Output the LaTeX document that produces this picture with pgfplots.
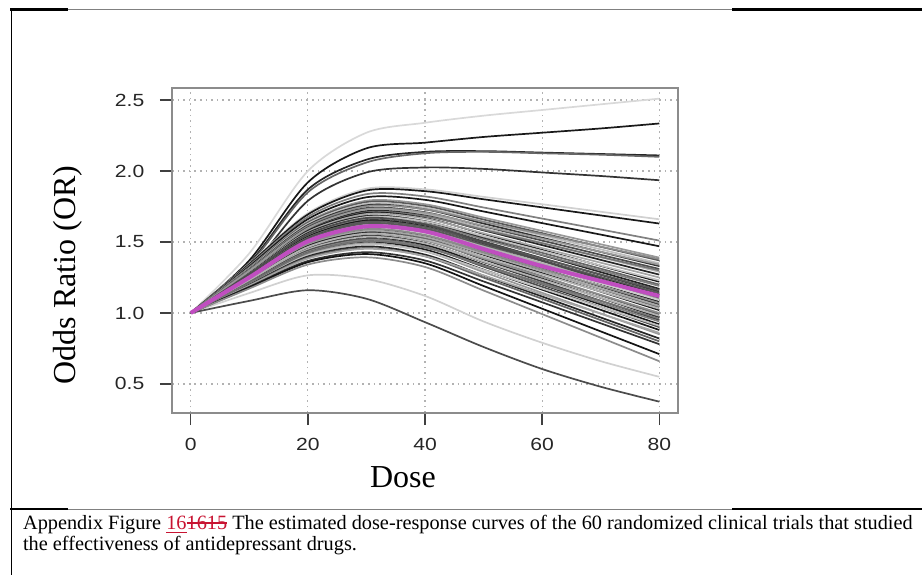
\documentclass[border=0pt]{standalone}
\usepackage{pgfplots}
\pgfplotsset{compat=1.18}
\usepackage{fontspec}
\setmainfont{Liberation Serif}
\setsansfont{Liberation Sans}
\definecolor{mag}{RGB}{192,78,192}
\definecolor{trackred}{RGB}{200,20,50}
\newcommand{\strike}[1]{\setbox0\hbox{#1}\rlap{\rule[0.27em]{\wd0}{0.06em}}\box0}
\begin{document}
\begin{tikzpicture}
\useasboundingbox (0pt,0pt) rectangle (461pt,287.5pt);
% frame lines
\begin{scope}[x=0.5pt,y=0.5pt]
\draw[black!50, line width=0.5pt] (68,565.5) -- (732,565.5);
\draw[black, line width=1.1pt] (10,565.5) -- (68,565.5);
\draw[black, line width=1.1pt] (732,565.5) -- (922,565.5);
\draw[black!50, line width=0.5pt] (68,66) -- (732,66);
\draw[black, line width=1.1pt] (10,66) -- (68,66);
\draw[black, line width=1.1pt] (732,66) -- (922,66);
\draw[black, line width=0.75pt] (11.7,566) -- (11.7,0);
\node[rotate=90, font=\fontsize{16}{19}\selectfont] at (68,300) {Odds Ratio (OR)};
\node[anchor=base, inner sep=0pt, font=\fontsize{16}{19}\selectfont] at (403,88) {Dose};
\node[anchor=base west, inner sep=0pt, font=\fontsize{10.15}{12}\selectfont] at (22.7,46) {Appendix Figure \textcolor{trackred}{\underline{16}\strike{16}\strike{15}} The estimated dose-response curves of the 60 randomized clinical trials that studied};
\node[anchor=base west, inner sep=0pt, font=\fontsize{10.15}{12}\selectfont] at (22.7,25) {the effectiveness of antidepressant drugs.};
\end{scope}
\begin{axis}[
  at={(86pt,81pt)}, anchor=south west,
  scale only axis, width=253pt, height=162.5pt,
  xmin=-3.2, xmax=83.2, ymin=0.295, ymax=2.585,
  xtick={0,20,40,60,80}, ytick={0.5,1.0,1.5,2.0,2.5},
  /pgf/number format/assume math mode=true,
  axis line style={draw=black!45, line width=0.6pt},
  tick align=outside, xtick pos=bottom, ytick pos=left,
  major tick length=6pt,
  every tick/.style={black!75, line width=0.7pt},
  grid=major, major grid style={black!30, dash pattern=on 0.8pt off 2pt, line width=0.6pt},
  tick label style={font=\sffamily\fontsize{8.8}{10}\selectfont, text=black!85, xscale=1.2},
  xticklabel style={yshift=-3pt},
  yticklabel style={xshift=-3pt, /pgf/number format/.cd, fixed, fixed zerofill, precision=1},
  no markers,
  every axis plot/.append style={smooth, line width=0.85pt},
]
% top group
\addplot[black!15] coordinates {(0,1)(10,1.42)(20,2.00)(30,2.27)(40,2.34)(50,2.39)(60,2.43)(70,2.47)(80,2.51)};
\addplot[black!90] coordinates {(0,1)(10,1.37)(20,1.92)(30,2.16)(40,2.20)(50,2.24)(60,2.27)(70,2.30)(80,2.335)};
\addplot[black!85] coordinates {(0,1)(10,1.35)(20,1.87)(30,2.08)(40,2.135)(50,2.14)(60,2.13)(70,2.12)(80,2.11)};
\addplot[black!60] coordinates {(0,1)(10,1.34)(20,1.85)(30,2.06)(40,2.125)(50,2.135)(60,2.125)(70,2.115)(80,2.10)};
\addplot[black!80] coordinates {(0,1)(10,1.31)(20,1.79)(30,1.99)(40,2.025)(50,2.015)(60,1.99)(70,1.965)(80,1.935)};
% bottom group
\addplot[black!18] coordinates {(0,1)(10,1.14)(20,1.265)(30,1.24)(40,1.12)(50,0.94)(60,0.79)(70,0.66)(80,0.55)};
\addplot[black!70] coordinates {(0,1)(10,1.085)(20,1.16)(30,1.10)(40,0.935)(50,0.76)(60,0.605)(70,0.48)(80,0.375)};
% bundle
\addplot[black!18] coordinates {(0,1)(10,1.348)(20,1.703)(30,1.875)(40,1.871)(50,1.818)(60,1.766)(70,1.713)(80,1.66)};
\addplot[black!90] coordinates {(0,1)(10,1.344)(20,1.694)(30,1.863)(40,1.858)(50,1.801)(60,1.744)(70,1.687)(80,1.63)};
\addplot[black!50] coordinates {(0,1)(10,1.336)(20,1.677)(30,1.837)(40,1.821)(50,1.743)(60,1.665)(70,1.588)(80,1.51)};
\addplot[black!90] coordinates {(0,1)(10,1.328)(20,1.661)(30,1.815)(40,1.797)(50,1.715)(60,1.633)(70,1.552)(80,1.47)};
\addplot[black!40] coordinates {(0,1)(10,1.32)(20,1.644)(30,1.791)(40,1.766)(50,1.672)(60,1.578)(70,1.484)(80,1.39)};
\addplot[black!65] coordinates {(0,1)(10,1.316)(20,1.636)(30,1.781)(40,1.754)(50,1.658)(60,1.562)(70,1.466)(80,1.37)};
\addplot[black!25] coordinates {(0,1)(10,1.312)(20,1.628)(30,1.770)(40,1.742)(50,1.644)(60,1.546)(70,1.448)(80,1.35)};
\addplot[black!80] coordinates {(0,1)(10,1.308)(20,1.619)(30,1.759)(40,1.730)(50,1.630)(60,1.530)(70,1.430)(80,1.33)};
\addplot[black!45] coordinates {(0,1)(10,1.304)(20,1.612)(30,1.752)(40,1.730)(50,1.642)(60,1.555)(70,1.467)(80,1.38)};
\addplot[black!70] coordinates {(0,1)(10,1.30)(20,1.603)(30,1.739)(40,1.710)(50,1.610)(60,1.510)(70,1.410)(80,1.31)};
\addplot[black!30] coordinates {(0,1)(10,1.296)(20,1.595)(30,1.728)(40,1.698)(50,1.596)(60,1.494)(70,1.392)(80,1.29)};
\addplot[black!85] coordinates {(0,1)(10,1.292)(20,1.587)(30,1.717)(40,1.686)(50,1.582)(60,1.478)(70,1.374)(80,1.27)};
\addplot[black!55] coordinates {(0,1)(10,1.288)(20,1.579)(30,1.709)(40,1.682)(50,1.586)(60,1.491)(70,1.395)(80,1.30)};
\addplot[black!90] coordinates {(0,1)(10,1.288)(20,1.578)(30,1.704)(40,1.669)(50,1.557)(60,1.444)(70,1.332)(80,1.22)};
\addplot[black!35] coordinates {(0,1)(10,1.284)(20,1.571)(30,1.697)(40,1.665)(50,1.561)(60,1.457)(70,1.354)(80,1.25)};
\addplot[black!60] coordinates {(0,1)(10,1.28)(20,1.562)(30,1.684)(40,1.648)(50,1.536)(60,1.424)(70,1.312)(80,1.20)};
\addplot[black!85] coordinates {(0,1)(10,1.28)(20,1.562)(30,1.682)(40,1.643)(50,1.525)(60,1.407)(70,1.288)(80,1.17)};
\addplot[black!25] coordinates {(0,1)(10,1.276)(20,1.554)(30,1.676)(40,1.644)(50,1.541)(60,1.437)(70,1.334)(80,1.23)};
\addplot[black!75] coordinates {(0,1)(10,1.272)(20,1.546)(30,1.662)(40,1.622)(50,1.504)(60,1.386)(70,1.268)(80,1.15)};
\addplot[black!50] coordinates {(0,1)(10,1.272)(20,1.546)(30,1.664)(40,1.629)(50,1.519)(60,1.409)(70,1.300)(80,1.19)};
\addplot[black!90] coordinates {(0,1)(10,1.268)(20,1.537)(30,1.651)(40,1.610)(50,1.490)(60,1.370)(70,1.250)(80,1.13)};
\addplot[black!40] coordinates {(0,1)(10,1.264)(20,1.529)(30,1.640)(40,1.597)(50,1.473)(60,1.348)(70,1.224)(80,1.10)};
\addplot[black!65] coordinates {(0,1)(10,1.264)(20,1.530)(30,1.643)(40,1.606)(50,1.495)(60,1.383)(70,1.272)(80,1.16)};
\addplot[black!90] coordinates {(0,1)(10,1.26)(20,1.521)(30,1.629)(40,1.585)(50,1.459)(60,1.332)(70,1.206)(80,1.08)};
\addplot[black!30] coordinates {(0,1)(10,1.256)(20,1.513)(30,1.622)(40,1.582)(50,1.467)(60,1.351)(70,1.236)(80,1.12)};
\addplot[black!80] coordinates {(0,1)(10,1.252)(20,1.505)(30,1.608)(40,1.564)(50,1.438)(60,1.312)(70,1.186)(80,1.06)};
\addplot[black!55] coordinates {(0,1)(10,1.248)(20,1.496)(30,1.598)(40,1.552)(50,1.424)(60,1.296)(70,1.168)(80,1.04)};
\addplot[black!20] coordinates {(0,1)(10,1.248)(20,1.497)(30,1.601)(40,1.560)(50,1.443)(60,1.325)(70,1.208)(80,1.09)};
\addplot[black!90] coordinates {(0,1)(10,1.244)(20,1.488)(30,1.587)(40,1.540)(50,1.410)(60,1.280)(70,1.150)(80,1.02)};
\addplot[black!60] coordinates {(0,1)(10,1.24)(20,1.480)(30,1.575)(40,1.526)(50,1.392)(60,1.258)(70,1.124)(80,0.99)};
\addplot[black!35] coordinates {(0,1)(10,1.24)(20,1.481)(30,1.579)(40,1.536)(50,1.415)(60,1.293)(70,1.172)(80,1.05)};
\addplot[black!85] coordinates {(0,1)(10,1.236)(20,1.472)(30,1.565)(40,1.514)(50,1.378)(60,1.242)(70,1.106)(80,0.97)};
\addplot[black!45] coordinates {(0,1)(10,1.232)(20,1.464)(30,1.557)(40,1.510)(50,1.383)(60,1.255)(70,1.128)(80,1.00)};
\addplot[black!75] coordinates {(0,1)(10,1.228)(20,1.456)(30,1.544)(40,1.494)(50,1.358)(60,1.222)(70,1.086)(80,0.95)};
\addplot[black!90] coordinates {(0,1)(10,1.224)(20,1.447)(30,1.533)(40,1.480)(50,1.340)(60,1.200)(70,1.060)(80,0.92)};
\addplot[black!30] coordinates {(0,1)(10,1.224)(20,1.448)(30,1.536)(40,1.490)(50,1.362)(60,1.235)(70,1.107)(80,0.98)};
\addplot[black!70] coordinates {(0,1)(10,1.22)(20,1.439)(30,1.522)(40,1.468)(50,1.326)(60,1.184)(70,1.042)(80,0.90)};
\addplot[black!50] coordinates {(0,1)(10,1.216)(20,1.431)(30,1.515)(40,1.466)(50,1.334)(60,1.203)(70,1.071)(80,0.94)};
\addplot[black!90] coordinates {(0,1)(10,1.212)(20,1.423)(30,1.502)(40,1.447)(50,1.305)(60,1.164)(70,1.022)(80,0.88)};
\addplot[black!40] coordinates {(0,1)(10,1.208)(20,1.415)(30,1.490)(40,1.434)(50,1.288)(60,1.142)(70,0.996)(80,0.85)};
\addplot[black!25] coordinates {(0,1)(10,1.204)(20,1.407)(30,1.484)(40,1.434)(50,1.303)(60,1.172)(70,1.041)(80,0.91)};
\addplot[black!85] coordinates {(0,1)(10,1.20)(20,1.398)(30,1.469)(40,1.411)(50,1.263)(60,1.116)(70,0.968)(80,0.82)};
\addplot[black!60] coordinates {(0,1)(10,1.196)(20,1.390)(30,1.458)(40,1.399)(50,1.249)(60,1.100)(70,0.950)(80,0.80)};
\addplot[black!35] coordinates {(0,1)(10,1.192)(20,1.383)(30,1.452)(40,1.400)(50,1.265)(60,1.130)(70,0.995)(80,0.86)};
\addplot[black!80] coordinates {(0,1)(10,1.184)(20,1.366)(30,1.428)(40,1.370)(50,1.222)(60,1.075)(70,0.927)(80,0.78)};
\addplot[black!92] coordinates {(0,1)(10,1.18)(20,1.357)(30,1.415)(40,1.350)(50,1.190)(60,1.030)(70,0.870)(80,0.71)};
\addplot[black!45] coordinates {(0,1)(10,1.172)(20,1.341)(30,1.392)(40,1.324)(50,1.158)(60,0.992)(70,0.826)(80,0.66)};
\addplot[black!40] coordinates {(0,1)(10,1.296)(20,1.595)(30,1.731)(40,1.706)(50,1.614)(60,1.523)(70,1.431)(80,1.34)};
\addplot[black!65] coordinates {(0,1)(10,1.26)(20,1.521)(30,1.632)(40,1.594)(50,1.481)(60,1.367)(70,1.254)(80,1.14)};
\addplot[black!30] coordinates {(0,1)(10,1.232)(20,1.464)(30,1.559)(40,1.515)(50,1.394)(60,1.273)(70,1.151)(80,1.03)};
\addplot[black!55] coordinates {(0,1)(10,1.212)(20,1.424)(30,1.506)(40,1.460)(50,1.335)(60,1.210)(70,1.085)(80,0.96)};
\addplot[black!70] coordinates {(0,1)(10,1.276)(20,1.553)(30,1.669)(40,1.625)(50,1.496)(60,1.367)(70,1.239)(80,1.11)};
\addplot[black!45] coordinates {(0,1)(10,1.244)(20,1.489)(30,1.590)(40,1.548)(50,1.429)(60,1.309)(70,1.190)(80,1.07)};
% pooled curve
\addplot[mag, line width=2pt] coordinates {(0,1)(10,1.25)(20,1.505)(30,1.61)(40,1.575)(50,1.45)(60,1.33)(70,1.225)(80,1.12)};
\end{axis}
\end{tikzpicture}
\end{document}
